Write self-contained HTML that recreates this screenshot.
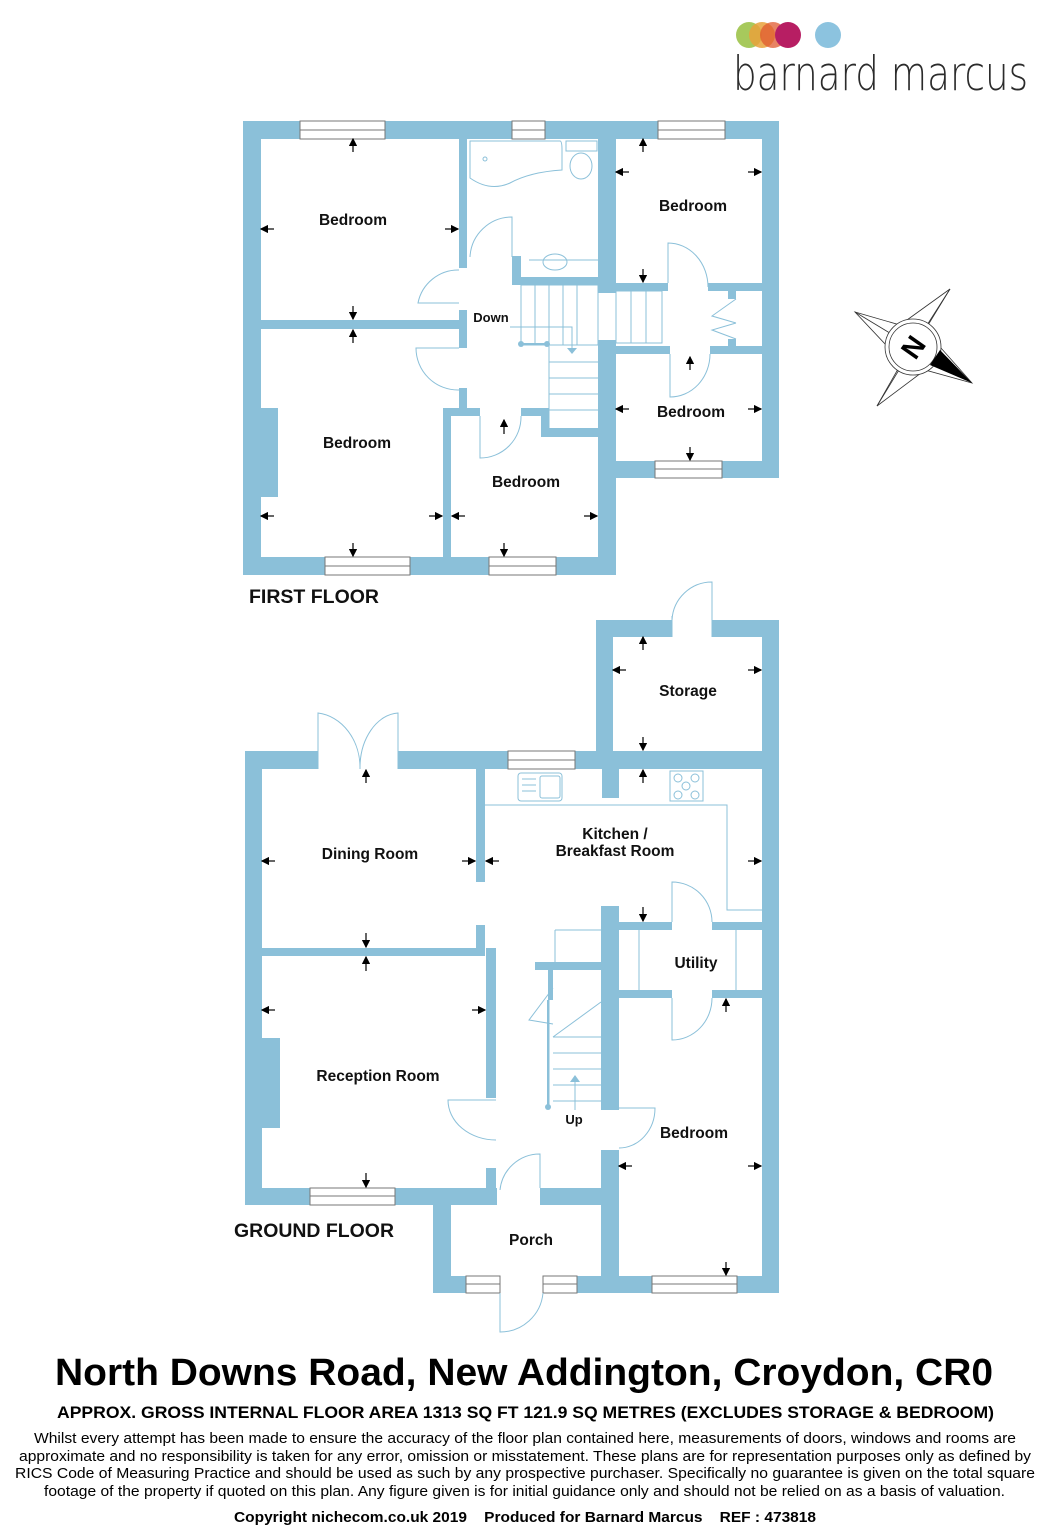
<!DOCTYPE html>
<html><head><meta charset="utf-8"><style>
html,body{margin:0;padding:0;background:#fff;}
body{width:1053px;height:1536px;position:relative;overflow:hidden;font-family:"Liberation Sans",Arial,sans-serif;}
svg{position:absolute;left:0;top:0;}
</style></head><body>
<svg width="1053" height="1536" viewBox="0 0 1053 1536" xmlns="http://www.w3.org/2000/svg" font-family="Liberation Sans, Arial, sans-serif">
<defs>
<marker id="ah" markerWidth="7" markerHeight="7" refX="6" refY="3.5" orient="auto"><path d="M0,0 L7,3.5 L0,7 z" fill="#000"/></marker>
</defs>
<!-- logo -->
<circle cx="749" cy="35" r="13" fill="#9dc34a" opacity="0.9"/>
<circle cx="762" cy="35" r="13" fill="#e9a23b" opacity="0.85"/>
<circle cx="773" cy="35" r="13" fill="#e05a2f" opacity="0.75"/>
<circle cx="788" cy="35" r="13" fill="#b71e63"/>
<circle cx="828" cy="35" r="13" fill="#8cc3df"/>
<text x="733" y="90" font-size="47" fill="#2b2b2b" font-family="DejaVu Sans, Liberation Sans, sans-serif" font-weight="300" textLength="295" lengthAdjust="spacingAndGlyphs">barnard marcus</text>

<!-- compass -->
<g stroke="#333" stroke-width="0.8" fill="none">
<polygon points="855,312 900,325 950,289 925,330 972,383 925,370 877,406 902,362"/>
<line x1="855" y1="312" x2="913" y2="347"/><line x1="950" y1="289" x2="913" y2="347"/><line x1="877" y1="406" x2="913" y2="347"/>
<circle cx="913" cy="347" r="28" fill="#fff"/><circle cx="913" cy="347" r="24"/>
</g>
<polygon points="930,365 940,350 972,383" fill="#000"/>
<text x="913" y="357" font-size="28" font-weight="bold" text-anchor="middle" transform="rotate(-55 913 347)">N</text>

<g fill="#8bc0d9">
<!-- FIRST FLOOR walls -->
<rect x="243" y="121" width="536" height="18"/>
<rect x="243" y="121" width="18" height="454"/>
<rect x="243" y="557" width="373" height="18"/>
<rect x="598" y="121" width="18" height="172"/>
<rect x="598" y="340" width="18" height="235"/>
<rect x="762" y="121" width="17" height="357"/>
<rect x="616" y="461" width="163" height="17"/>
<rect x="459" y="139" width="8" height="129"/>
<rect x="261" y="320" width="206" height="9"/>
<rect x="459" y="310" width="8" height="38"/>
<rect x="459" y="388" width="8" height="20"/>
<rect x="443" y="408" width="37" height="8"/>
<rect x="443" y="408" width="8" height="150"/>
<rect x="521" y="408" width="20" height="8"/>
<rect x="541" y="408" width="8" height="29"/>
<rect x="541" y="428" width="57" height="9"/>
<rect x="512" y="256" width="9" height="29"/>
<rect x="512" y="277" width="86" height="8"/>
<rect x="616" y="283" width="52" height="8"/>
<rect x="708" y="283" width="54" height="8"/>
<rect x="728" y="291" width="8" height="8"/><rect x="728" y="339" width="8" height="8"/>
<rect x="616" y="346" width="54" height="8"/>
<rect x="710" y="346" width="52" height="8"/>
<rect x="261" y="408" width="17" height="89"/>

<!-- GROUND FLOOR walls -->
<rect x="245" y="751" width="73" height="18"/>
<rect x="398" y="751" width="381" height="18"/>
<rect x="245" y="751" width="17" height="454"/>
<rect x="596" y="620" width="17" height="149"/>
<rect x="596" y="620" width="76" height="17"/>
<rect x="712" y="620" width="67" height="17"/>
<rect x="762" y="620" width="17" height="673"/>
<rect x="602" y="769" width="17" height="29"/>
<rect x="476" y="769" width="9" height="113"/>
<rect x="476" y="925" width="9" height="23"/>
<rect x="262" y="948" width="223" height="8"/>
<rect x="486" y="948" width="10" height="150"/>
<rect x="486" y="1168" width="10" height="37"/>
<rect x="245" y="1188" width="252" height="17"/>
<rect x="262" y="1038" width="18" height="90"/>
<rect x="433" y="1188" width="18" height="105"/>
<rect x="433" y="1188" width="64" height="17"/>
<rect x="540" y="1188" width="62" height="17"/>
<rect x="433" y="1276" width="67" height="17"/>
<rect x="543" y="1276" width="236" height="17"/>
<rect x="601" y="906" width="18" height="204"/>
<rect x="601" y="1150" width="18" height="143"/>
<rect x="619" y="922" width="53" height="8"/><rect x="712" y="922" width="50" height="8"/>
<rect x="619" y="990" width="53" height="8"/><rect x="712" y="990" width="50" height="8"/>
<rect x="535" y="962" width="66" height="8"/>
<rect x="548" y="970" width="5" height="30"/>
</g>

<!-- windows -->
<g fill="#fff" stroke="#777" stroke-width="1">
<rect x="300" y="121" width="85" height="18"/><rect x="512" y="121" width="33" height="18"/><rect x="658" y="121" width="67" height="18"/>
<rect x="325" y="557" width="85" height="18"/><rect x="489" y="557" width="67" height="18"/><rect x="655" y="461" width="67" height="17"/>
<rect x="508" y="751" width="67" height="18"/><rect x="310" y="1188" width="85" height="17"/>
<rect x="466" y="1276" width="34" height="17"/><rect x="543" y="1276" width="34" height="17"/><rect x="652" y="1276" width="85" height="17"/>
</g>
<g stroke="#777" stroke-width="1">
<line x1="300" y1="130" x2="385" y2="130"/><line x1="512" y1="130" x2="545" y2="130"/><line x1="658" y1="130" x2="725" y2="130"/>
<line x1="325" y1="566" x2="410" y2="566"/><line x1="489" y1="566" x2="556" y2="566"/><line x1="655" y1="469" x2="722" y2="469"/>
<line x1="508" y1="760" x2="575" y2="760"/><line x1="310" y1="1196" x2="395" y2="1196"/>
<line x1="466" y1="1284" x2="500" y2="1284"/><line x1="543" y1="1284" x2="577" y2="1284"/><line x1="652" y1="1284" x2="737" y2="1284"/>
</g>

<!-- doors, fittings, stairs (thin blue) -->
<g fill="none" stroke="#8bc0d9" stroke-width="1">
<path d="M459,270 A41,41 0 0 0 418,303 L459,303"/>
<path d="M459,348 L416,348 A42,42 0 0 0 459,390"/>
<path d="M480,416 L480,458 A41,41 0 0 0 521,416"/>
<path d="M512,257 L512,217 A42,42 0 0 0 470,257"/>
<path d="M668,283 L668,243 A40,44 0 0 1 708,287"/>
<path d="M710,354 A40,43 0 0 1 670,397 L670,354"/>
<path d="M736,299 L712,316 L736,323 M736,339 L712,330 L736,323"/>
<path d="M470,141 L560,141 Q562,141 562,150 L562,170 Q530,172 510,183 Q490,192 470,178 Z"/>
<rect x="566" y="141" width="31" height="10"/><ellipse cx="581" cy="166" rx="11" ry="13"/>
<ellipse cx="555" cy="262" rx="12" ry="8"/><line x1="529" y1="260" x2="598" y2="260"/>
<circle cx="485" cy="159" r="2"/>
<rect x="521" y="285" width="77" height="60"/>
<line x1="535" y1="285" x2="535" y2="345"/><line x1="549" y1="285" x2="549" y2="428"/><line x1="563" y1="285" x2="563" y2="345"/><line x1="577" y1="285" x2="577" y2="345"/>
<line x1="549" y1="362" x2="598" y2="362"/><line x1="549" y1="378" x2="598" y2="378"/><line x1="549" y1="394" x2="598" y2="394"/><line x1="549" y1="410" x2="598" y2="410"/>
<rect x="616" y="291" width="46" height="52"/><line x1="631" y1="291" x2="631" y2="343"/><line x1="646" y1="291" x2="646" y2="343"/>
<path d="M510,327 L572,327 L572,348"/>
<path d="M318,769 L318,713 A47,55 0 0 1 360,769 M398,769 L398,713 A40,55 0 0 0 360,769"/>
<path d="M672,637 L672,616 M712,637 L712,582 A40,40 0 0 0 672,620"/>
<path d="M672,922 L672,882 A40,40 0 0 1 712,922"/>
<path d="M712,998 A40,42 0 0 1 672,1040 L672,998"/>
<path d="M496,1100 L448,1100 A48,40 0 0 0 496,1140"/>
<path d="M619,1108 L655,1108 A36,40 0 0 1 619,1148"/>
<path d="M540,1188 L540,1154 A40,40 0 0 0 500,1190"/>
<path d="M500,1293 L500,1332 A43,43 0 0 0 543,1293"/>
<path d="M553,988 L529,1020 L553,1024"/>
<path d="M485,805 L727,805 L727,910 L762,910"/>
<rect x="518" y="773" width="44" height="28" rx="3"/><rect x="540" y="776" width="20" height="22" rx="2"/>
<line x1="522" y1="779" x2="536" y2="779"/><line x1="522" y1="785" x2="536" y2="785"/><line x1="522" y1="791" x2="536" y2="791"/>
<rect x="670" y="771" width="33" height="30"/><circle cx="678" cy="778" r="4"/><circle cx="695" cy="778" r="4"/><circle cx="686" cy="786" r="4"/><circle cx="678" cy="795" r="4"/><circle cx="695" cy="795" r="4"/>
<line x1="639" y1="930" x2="639" y2="990"/><line x1="736" y1="930" x2="736" y2="990"/>
<path d="M555,930 L601,930 M555,930 L555,962"/>
<line x1="553" y1="1037" x2="601" y2="1002"/>
<line x1="553" y1="1037" x2="601" y2="1037"/><line x1="553" y1="1053" x2="601" y2="1053"/><line x1="553" y1="1069" x2="601" y2="1069"/><line x1="553" y1="1085" x2="601" y2="1085"/><line x1="553" y1="1101" x2="601" y2="1101"/>
<line x1="575" y1="1080" x2="575" y2="1110"/>
</g>
<g fill="#8bc0d9"><circle cx="521" cy="344" r="3"/><circle cx="547" cy="344" r="3"/><rect x="521" y="343" width="26" height="2.5"/>
<polygon points="567,348 577,348 572,354"/><polygon points="570,1082 580,1082 575,1075"/><circle cx="548" cy="1107" r="3"/><rect x="547" y="1000" width="2.5" height="107"/></g>

<!-- dimension arrows -->
<g stroke="#000" stroke-width="1.2" marker-end="url(#ah)">
<line x1="353" y1="152" x2="353" y2="139"/><line x1="274" y1="229" x2="261" y2="229"/><line x1="445" y1="229" x2="458" y2="229"/><line x1="353" y1="306" x2="353" y2="319"/>
<line x1="353" y1="343" x2="353" y2="330"/><line x1="274" y1="516" x2="261" y2="516"/><line x1="429" y1="516" x2="442" y2="516"/><line x1="353" y1="543" x2="353" y2="556"/>
<line x1="465" y1="516" x2="452" y2="516"/><line x1="584" y1="516" x2="597" y2="516"/><line x1="504" y1="543" x2="504" y2="556"/><line x1="504" y1="434" x2="504" y2="420"/>
<line x1="643" y1="152" x2="643" y2="139"/><line x1="629" y1="172" x2="616" y2="172"/><line x1="748" y1="172" x2="761" y2="172"/><line x1="643" y1="269" x2="643" y2="282"/>
<line x1="690" y1="370" x2="690" y2="357"/><line x1="629" y1="409" x2="616" y2="409"/><line x1="748" y1="409" x2="761" y2="409"/><line x1="690" y1="447" x2="690" y2="460"/>
<line x1="643" y1="650" x2="643" y2="637"/><line x1="626" y1="670" x2="613" y2="670"/><line x1="748" y1="670" x2="761" y2="670"/><line x1="643" y1="737" x2="643" y2="750"/>
<line x1="366" y1="783" x2="366" y2="770"/><line x1="275" y1="861" x2="262" y2="861"/><line x1="462" y1="861" x2="475" y2="861"/><line x1="366" y1="933" x2="366" y2="947"/>
<line x1="499" y1="861" x2="486" y2="861"/><line x1="748" y1="861" x2="761" y2="861"/><line x1="643" y1="783" x2="643" y2="770"/><line x1="643" y1="907" x2="643" y2="921"/>
<line x1="366" y1="971" x2="366" y2="957"/><line x1="275" y1="1010" x2="262" y2="1010"/><line x1="472" y1="1010" x2="485" y2="1010"/><line x1="366" y1="1173" x2="366" y2="1187"/>
<line x1="726" y1="1012" x2="726" y2="999"/><line x1="632" y1="1166" x2="619" y2="1166"/><line x1="748" y1="1166" x2="761" y2="1166"/><line x1="726" y1="1262" x2="726" y2="1275"/>
</g>

<!-- labels -->
<g font-weight="bold" font-size="15.5" fill="#111" text-anchor="middle">
<text x="353" y="225">Bedroom</text><text x="357" y="448">Bedroom</text><text x="526" y="487">Bedroom</text>
<text x="693" y="211">Bedroom</text><text x="691" y="417">Bedroom</text>
<text x="491" y="322" font-size="13">Down</text>
<text x="688" y="696">Storage</text><text x="370" y="859">Dining Room</text>
<text x="615" y="839">Kitchen /</text><text x="615" y="856">Breakfast Room</text>
<text x="696" y="968">Utility</text><text x="378" y="1081">Reception Room</text>
<text x="574" y="1124" font-size="13">Up</text><text x="694" y="1138">Bedroom</text><text x="531" y="1245">Porch</text>
</g>
<text x="249" y="603" font-size="19" font-weight="bold" fill="#111" textLength="130" lengthAdjust="spacingAndGlyphs">FIRST FLOOR</text>
<text x="234" y="1237" font-size="19" font-weight="bold" fill="#111" textLength="160" lengthAdjust="spacingAndGlyphs">GROUND FLOOR</text>

<text x="55" y="1385" font-size="38" font-weight="bold" fill="#000" textLength="938" lengthAdjust="spacingAndGlyphs">North Downs Road, New Addington, Croydon, CR0</text>
<text x="57" y="1418" font-size="16.5" font-weight="bold" fill="#000" textLength="937" lengthAdjust="spacingAndGlyphs">APPROX. GROSS INTERNAL FLOOR AREA 1313 SQ FT 121.9 SQ METRES (EXCLUDES STORAGE &amp; BEDROOM)</text>
<g font-size="14.5" fill="#000">
<text x="34" y="1443" textLength="982" lengthAdjust="spacingAndGlyphs">Whilst every attempt has been made to ensure the accuracy of the floor plan contained here, measurements of doors, windows and rooms are</text>
<text x="19" y="1461" textLength="1012" lengthAdjust="spacingAndGlyphs">approximate and no responsibility is taken for any error, omission or misstatement. These plans are for representation purposes only as defined by</text>
<text x="15" y="1478" textLength="1020" lengthAdjust="spacingAndGlyphs">RICS Code of Measuring Practice and should be used as such by any prospective purchaser.  Specifically no guarantee is given on the total square</text>
<text x="44" y="1496" textLength="961" lengthAdjust="spacingAndGlyphs">footage of the property if quoted on this plan. Any figure given is for initial guidance only and should not be relied on as a basis of valuation.</text>
</g>
<text x="234" y="1522" font-size="14.5" font-weight="bold" fill="#000" xml:space="preserve" textLength="582" lengthAdjust="spacingAndGlyphs">Copyright nichecom.co.uk 2019    Produced for Barnard Marcus    REF : 473818</text>
</svg>
</body></html>
